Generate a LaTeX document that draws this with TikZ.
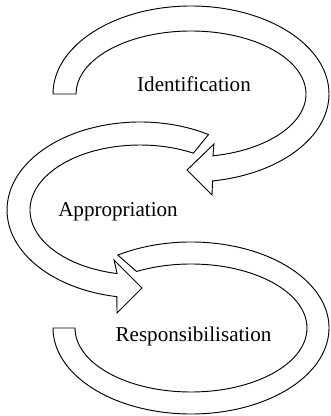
\documentclass[tikz,border=0pt]{standalone}
\usepackage{fontspec}
\setmainfont{Liberation Serif}
\begin{document}
\begin{tikzpicture}[x=0.03cm,y=0.03cm]
	\tikzset{loopband/.style={line width=0.8pt,line join=miter},
		stagelabel/.style={anchor=base,inner sep=0pt,font=\fontsize{18}{22}\selectfont}}
	\useasboundingbox (0,0) rectangle (330,416);
	% Identification loop
	\begin{scope}[shift={(191,322)}]
		\draw[loopband] (180:138 and 88) arc[start angle=180,end angle=-81,x radius=138,y radius=88] -- (21,-101) -- (-4,-76) -- (23,-50) -- (-79:115 and 63) arc[start angle=-79,end angle=180,x radius=115,y radius=63] -- cycle;
		\node[stagelabel] (ident) at (3,2) {Identification};
	\end{scope}
	% Appropriation loop
	\begin{scope}[shift={(140,206)}]
		\draw[loopband] (59:133 and 88) arc[start angle=59,end angle=260,x radius=133,y radius=88] -- (-23,-103) -- (2,-78) -- (-26,-50) -- (258:110 and 65) arc[start angle=258,end angle=61,x radius=110,y radius=65] -- cycle;
		\node[stagelabel] (approp) at (-22,-7) {Appropriation};
	\end{scope}
	% Responsibilisation loop
	\begin{scope}[shift={(191,88)}]
		\draw[loopband] (122:138 and 86) arc[start angle=122,end angle=-180,x radius=138,y radius=86] -- (-180:116 and 64) arc[start angle=-180,end angle=118,x radius=116,y radius=64] -- cycle;
		\node[stagelabel] (respons) at (2.5,-14) {Responsibilisation};
	\end{scope}
\end{tikzpicture}
\end{document}
